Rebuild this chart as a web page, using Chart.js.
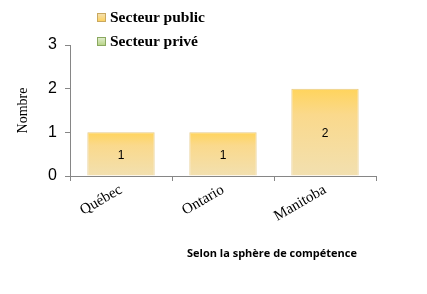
<!DOCTYPE html>
<html>
<head>
<meta charset="utf-8">
<script src="https://cdn.jsdelivr.net/npm/chart.js@4/dist/chart.umd.min.js"></script>
<style>
  body { margin: 0; background: #fff; }
  #wrap { position: relative; width: 427px; height: 294px; }
  #legend { position: absolute; left: 97px; top: 5px; font: bold 15.5px "Liberation Serif", serif; color: #000; }
  #legend div { height: 24px; line-height: 24px; white-space: nowrap; }
  #legend span.box { display: inline-block; width: 9px; height: 9px; margin-right: 4px; vertical-align: 0px; box-sizing: border-box; }
  #xtitle { position: absolute; left: 187px; top: 245px; font: bold 11px "Open Sans", "Liberation Sans", sans-serif; color: #000; white-space: nowrap; }
</style>
</head>
<body>
<div id="wrap">
  <canvas id="c" width="427" height="294"></canvas>
  <div id="legend"></div>
  <div id="xtitle">Selon la sphère de compétence</div>
</div>
<script>
var regions = ['Québec', 'Ontario', 'Manitoba'];
var seriesNames = ['Secteur public', 'Secteur privé'];
var publicValues = [1, 1, 2];
var priveValues = [0, 0, 0];
var yTitle = 'Nombre';

// vertical gradient fitted to each bar (bright top, pale bottom)
function barGradient(top, mid, bottom) {
    return function (c) {
        var chart = c.chart;
        if (!chart.chartArea || c.raw === undefined) return top;
        var ys = chart.scales.y;
        var yBase = ys.getPixelForValue(0);
        var yTop = Math.min(ys.getPixelForValue(c.raw || 0), yBase - 1);
        var g = chart.ctx.createLinearGradient(0, yTop, 0, yBase);
        g.addColorStop(0, top);
        g.addColorStop(0.3, mid);
        g.addColorStop(1, bottom);
        return g;
    };
}

// data labels in the middle of each bar
var labelPlugin = {
    id: 'barLabels',
    afterDatasetsDraw: function (chart) {
        var ctx = chart.ctx;
        ctx.save();
        ctx.font = '12px "Liberation Sans", sans-serif';
        ctx.fillStyle = '#000';
        ctx.textAlign = 'center';
        ctx.textBaseline = 'middle';
        chart.data.datasets.forEach(function (ds, i) {
            chart.getDatasetMeta(i).data.forEach(function (bar, j) {
                if (!ds.data[j]) return;
                ctx.fillText(String(ds.data[j]), bar.x, (bar.y + bar.base) / 2 + 2);
            });
        });
        ctx.restore();
    }
};

var chart = new Chart(document.getElementById('c').getContext('2d'), {
    type: 'bar',
    data: {
        labels: regions,
        datasets: [
            { label: seriesNames[0], data: publicValues, backgroundColor: barGradient('#ffd45c', '#fad98c', '#f2e0b0'), borderColor: '#e6cb8a', borderWidth: 1, categoryPercentage: 1, barPercentage: 0.66 },
            { label: seriesNames[1], data: priveValues, backgroundColor: barGradient('#b8d488', '#cde2ac', '#dfeccb'), borderColor: '#a9c77a', borderWidth: 1, categoryPercentage: 1, barPercentage: 0.66 }
        ]
    },
    options: {
        responsive: false,
        animation: false,
        layout: { padding: { left: 0, right: 51, top: 45, bottom: 0 } },
        plugins: { legend: { display: false }, tooltip: { enabled: false } },
        scales: {
            x: {
                stacked: true,
                grid: { drawOnChartArea: false, drawTicks: true, tickLength: 5, color: '#868686' },
                border: { color: '#868686' },
                ticks: { color: '#000', font: { family: '"Liberation Serif", serif', size: 15 }, minRotation: 30, maxRotation: 30, padding: 0 },
                afterFit: function (s) { s.height = 118; }
            },
            y: {
                stacked: true,
                min: 0, max: 3,
                grid: { drawOnChartArea: false, drawTicks: true, tickLength: 5, color: '#868686' },
                border: { color: '#868686' },
                ticks: { stepSize: 1, color: '#000', font: { family: '"Liberation Sans", sans-serif', size: 16 }, padding: 8 },
                title: { display: true, text: yTitle, color: '#000', font: { family: '"Liberation Serif", serif', size: 14 }, padding: { top: 15, bottom: 0 } },
                afterFit: function (s) { s.width = 70; }
            }
        }
    },
    plugins: [labelPlugin]
});

var legend = document.getElementById('legend');
var boxColors = [['#fdd160', '#f4e0ae', '#c9a860'], ['#b8d488', '#dfeccb', '#8aa860']];
chart.data.datasets.forEach(function (ds, i) {
    var row = document.createElement('div');
    var box = document.createElement('span');
    box.className = 'box';
    box.style.background = 'linear-gradient(' + boxColors[i][1] + ',' + boxColors[i][0] + ')';
    box.style.border = '1px solid ' + boxColors[i][2];
    row.appendChild(box);
    row.appendChild(document.createTextNode(ds.label));
    legend.appendChild(row);
});
</script>
</body>
</html>
